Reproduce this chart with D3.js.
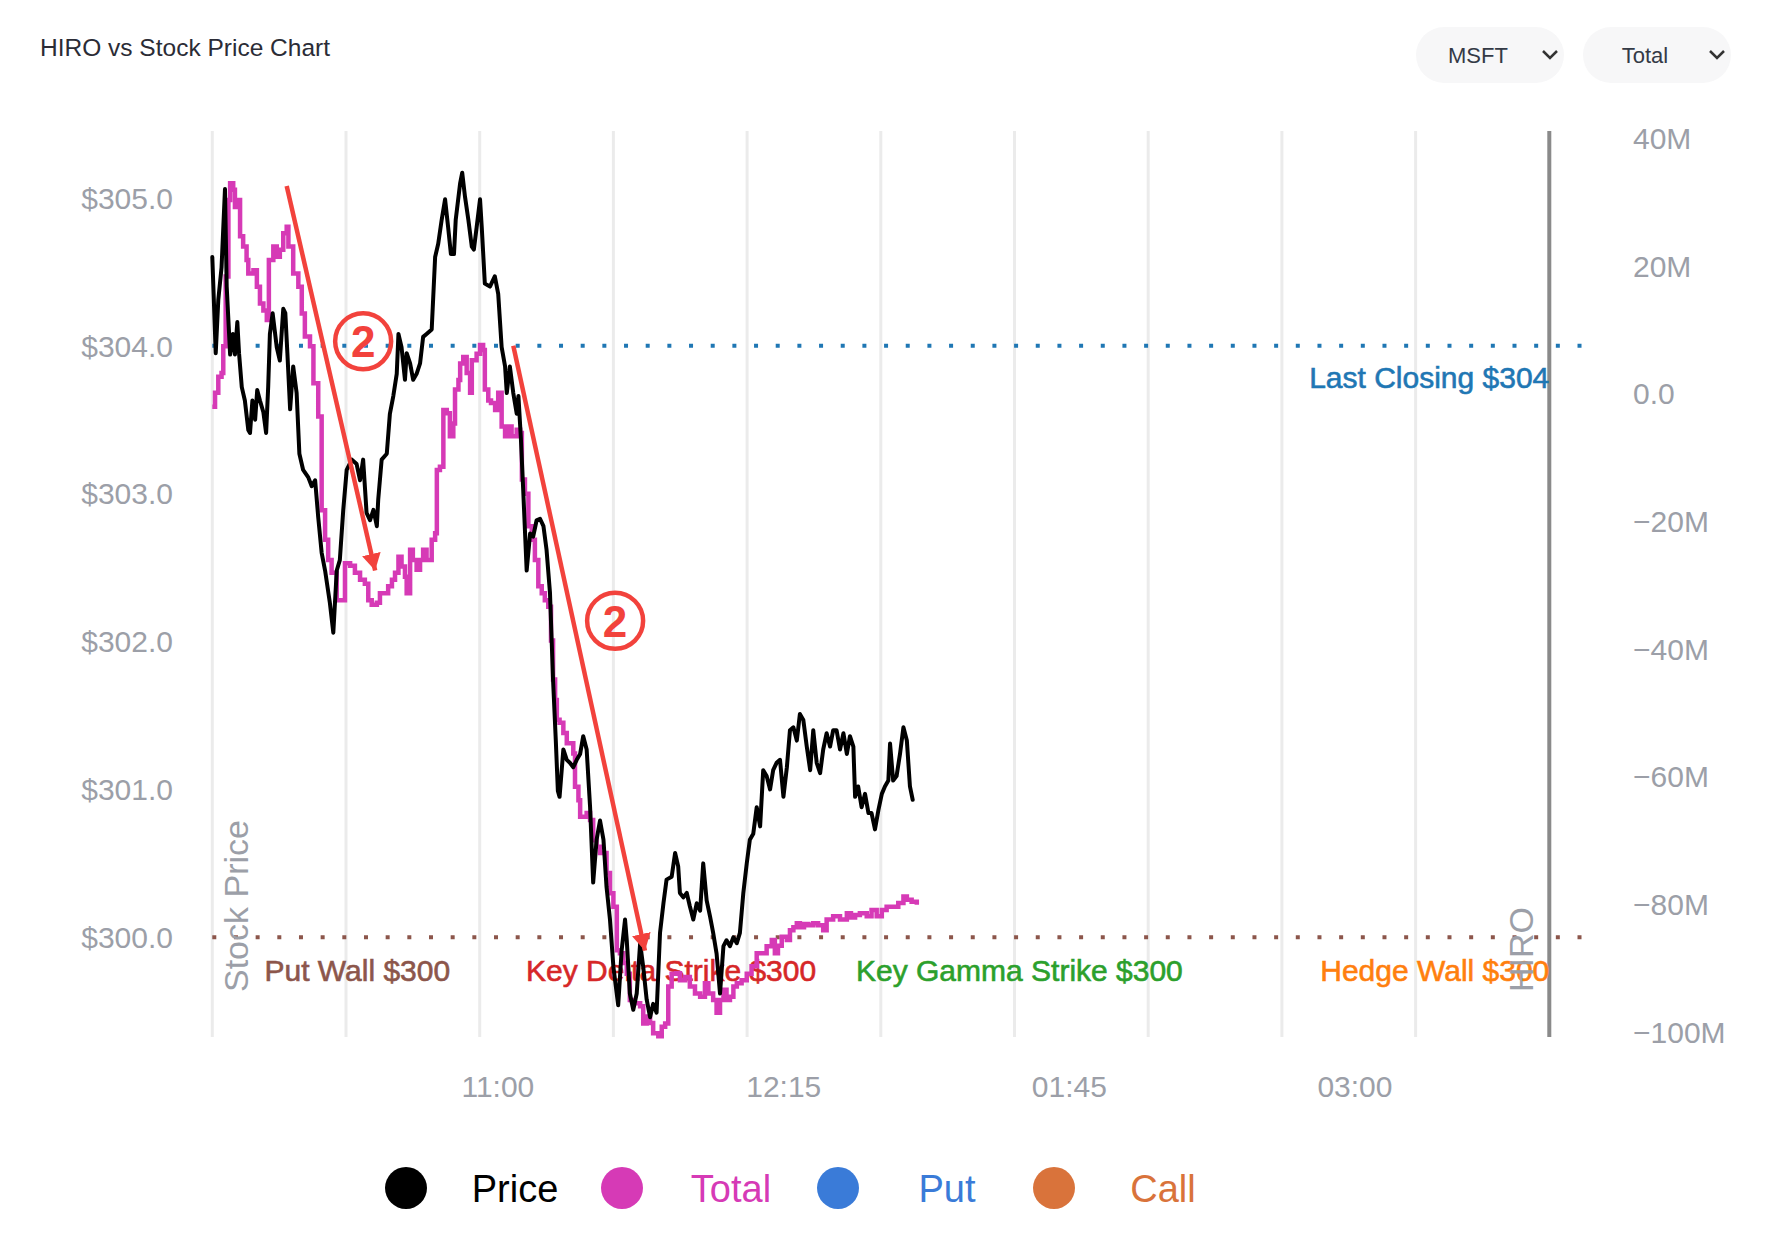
<!DOCTYPE html>
<html>
<head>
<meta charset="utf-8">
<script src="https://cdn.jsdelivr.net/npm/d3@7"></script>
<style>
  body { margin: 0; background: #fff; }
  svg text { font-family: "Liberation Sans", Arial, Helvetica, sans-serif; }
</style>
</head>
<body>
<svg id="chart" width="1765" height="1242"></svg>
<script>
// minutes since the open (chart slots) and MSFT price
const pricePoints = [
  [0,304.60],[1.0,303.95],[1.75,304.31],[2.7,304.53],[3.7,305.06],[4.2,304.40],[5.2,303.94],[6.0,304.08],
  [6.6,303.94],[7.3,304.16],[7.8,303.95],[8.6,303.72],[9.5,303.63],[10.5,303.43],[11.0,303.41],[11.7,303.63],
  [12.5,303.50],[13.1,303.70],[13.9,303.63],[14.9,303.55],[15.7,303.41],[16.3,303.72],[16.8,304.08],[17.6,304.22],
  [18.8,303.99],[19.7,303.90],[20.7,304.25],[21.3,304.22],[21.9,303.95],[22.7,303.57],[23.6,303.86],[24.6,303.68],
  [25.4,303.27],[26.5,303.16],[28.0,303.11],[29.0,303.05],[30.0,303.09],[30.9,302.84],[31.9,302.60],[32.9,302.48],
  [34.3,302.26],[35.3,302.06],[36.3,302.48],[37.2,302.55],[38.2,302.89],[39.2,303.16],[40.7,303.23],[42.1,303.20],
  [43.1,303.09],[44.0,303.23],[45.0,302.87],[46.0,302.82],[47.0,302.89],[48.0,302.78],[48.4,302.96],[49.4,303.23],
  [50.9,303.27],[51.8,303.54],[52.8,303.66],[53.8,303.81],[54.3,304.08],[55.2,303.99],[56.2,303.77],[56.7,303.95],
  [57.7,303.88],[58.6,303.77],[59.6,303.81],[60.6,303.88],[61.5,304.06],[62.5,304.08],[64.0,304.11],[65.0,304.60],
  [65.9,304.69],[66.9,304.85],[67.9,304.99],[68.8,304.80],[69.6,304.62],[70.5,304.62],[71.0,304.85],[72.3,305.10],
  [72.9,305.17],[73.7,305.01],[74.7,304.85],[75.7,304.67],[76.3,304.65],[77.1,304.80],[78.1,304.99],[78.6,304.80],
  [79.5,304.42],[81.0,304.40],[82.4,304.47],[83.4,304.35],[84.4,303.99],[85.4,303.86],[85.9,303.68],[86.8,303.86],
  [87.8,303.68],[88.8,303.54],[89.3,303.66],[90.0,303.38],[90.7,303.02],[91.7,302.48],[92.7,302.73],[93.6,302.71],
  [94.6,302.82],[95.6,302.83],[96.6,302.78],[97.5,302.62],[98.5,302.33],[99.4,301.74],[100.2,301.33],[100.8,300.99],
  [101.3,300.95],[102.4,301.27],[103.4,301.20],[104.3,301.18],[105.3,301.15],[106.3,301.20],[107.3,301.24],[108.2,301.36],
  [109.2,301.27],[110.2,300.88],[111.1,300.37],[112.1,300.66],[113.1,300.79],[114.1,300.66],[115.0,300.34],[116.0,300.12],
  [117.0,299.80],[118.4,299.54],[119.4,299.91],[120.4,300.12],[120.9,299.98],[121.8,299.62],[122.8,299.51],[123.8,299.62],
  [124.8,299.96],[125.7,299.80],[126.7,299.58],[127.7,299.46],[128.6,299.55],[129.6,299.49],[130.6,300.03],[131.6,300.23],
  [132.5,300.39],[134.0,300.41],[135.0,300.57],[135.9,300.48],[136.4,300.30],[137.4,300.27],[138.4,300.30],[139.3,300.21],
  [140.3,300.12],[141.3,300.23],[142.3,300.18],[143.2,300.50],[144.2,300.25],[145.2,300.14],[146.1,300.03],[147.1,299.89],
  [148.1,299.62],[149.1,299.94],[150.0,299.98],[151.0,299.94],[152.0,300.00],[153.0,299.96],[153.9,300.03],[154.9,300.30],
  [155.9,300.50],[156.8,300.66],[157.8,300.70],[158.8,300.88],[159.8,300.75],[160.7,301.13],[161.7,301.09],[162.7,301.00],
  [163.6,301.13],[164.6,301.18],[165.6,301.20],[166.6,300.95],[167.6,301.15],[168.5,301.40],[169.5,301.42],[170.5,301.33],
  [171.4,301.51],[172.4,301.47],[173.4,301.29],[174.4,301.13],[175.3,301.40],[176.3,301.18],[177.3,301.11],[178.2,301.27],
  [179.2,301.38],[180.2,301.29],[181.1,301.40],[182.1,301.40],[183.1,301.27],[184.1,301.38],[185.1,301.24],[186.0,301.36],
  [187.0,301.29],[187.5,300.95],[188.4,301.02],[189.4,300.88],[190.4,300.97],[191.4,300.84],[192.3,300.84],[193.3,300.73],
  [194.3,300.86],[195.3,300.97],[196.2,301.02],[197.2,301.06],[197.7,301.31],[198.6,301.06],[199.6,301.09],[200.6,301.24],
  [201.6,301.42],[202.6,301.33],[203.5,301.02],[204.3,300.93]
];

// Total HIRO, millions
const totalPoints = [
  [0,-2.1],[0.8,0.1],[1.75,2.6],[2.7,3.2],[3.2,7.4],[3.9,18.3],[4.7,30.3],[5.2,32.9],[6.1,31.9],[6.6,29.2],
  [7.6,30.3],[8.1,24.6],[9.0,23.0],[10.0,20.9],[10.5,18.8],[12.0,19.3],[13.0,16.7],[13.9,14.1],[14.9,13.0],[15.9,11.5],
  [16.5,20.9],[17.8,23.0],[18.8,21.4],[19.7,22.5],[20.7,25.1],[21.7,26.1],[22.2,23.0],[23.6,18.8],[25.1,16.7],[26.1,12.5],
  [27.0,8.9],[28.5,7.4],[29.5,1.6],[30.9,-3.6],[31.9,-18.3],[32.9,-22.9],[33.8,-26.1],[34.8,-28.1],[36.3,-32.4],[38.7,-26.6],
  [40.2,-27.0],[41.6,-28.1],[43.1,-29.2],[44.5,-29.8],[45.5,-32.4],[46.5,-33.1],[48.0,-32.8],[48.9,-31.3],[51.3,-30.2],[52.4,-29.2],
  [53.3,-28.1],[54.3,-25.6],[55.2,-27.1],[56.2,-28.7],[56.7,-31.3],[57.7,-24.5],[58.5,-26.1],[59.6,-27.6],[60.6,-26.1],[61.5,-24.5],
  [62.5,-26.1],[64.0,-22.9],[65.0,-21.9],[65.5,-12.0],[66.4,-11.5],[67.4,-2.6],[68.4,-3.1],[69.3,-6.7],[70.3,-4.7],[70.8,0.6],
  [71.8,2.1],[72.3,4.7],[73.2,5.7],[74.2,3.2],[75.2,0.1],[75.7,5.2],[77.1,6.2],[78.1,7.6],[79.0,6.8],[79.5,0.6],
  [80.5,-1.1],[81.3,-1.5],[82.5,-2.6],[83.4,0.1],[84.4,-5.2],[85.4,-6.7],[86.3,-5.2],[87.3,-6.7],[88.8,-5.7],[89.8,-6.2],
  [90.3,-13.5],[91.2,-15.7],[92.2,-20.8],[93.2,-22.9],[94.1,-26.1],[95.1,-30.2],[96.1,-31.3],[97.0,-32.4],[98.0,-33.4],[98.8,-38.7],
  [99.4,-44.8],[100.0,-48.0],[100.5,-51.1],[101.3,-51.6],[102.4,-53.2],[103.4,-54.8],[105.3,-56.4],[105.8,-61.6],[106.8,-63.7],[107.3,-66.3],
  [109.2,-65.7],[110.2,-66.8],[111.1,-70.0],[112.1,-71.0],[113.1,-72.0],[115.0,-75.1],[116.0,-78.3],[117.0,-80.4],[118.0,-87.2],[118.9,-87.7],
  [119.9,-89.2],[120.9,-90.9],[121.8,-95.0],[122.8,-95.5],[124.8,-96.0],[125.7,-98.7],[126.7,-97.6],[127.7,-98.6],[128.6,-100.2],[130.1,-100.7],
  [131.1,-99.2],[132.1,-98.7],[133.0,-92.9],[134.0,-90.9],[135.3,-90.8],[136.4,-91.9],[137.9,-91.4],[139.3,-92.9],[140.8,-94.0],[142.3,-94.5],
  [143.7,-92.4],[144.7,-94.0],[146.1,-95.0],[147.1,-97.0],[148.1,-95.0],[149.1,-93.4],[150.0,-95.0],[151.0,-94.5],[152.0,-92.9],[153.0,-92.4],
  [154.4,-91.9],[155.9,-90.9],[157.3,-89.7],[158.8,-87.7],[161.7,-86.6],[163.2,-85.6],[164.1,-87.7],[165.0,-86.5],[166.1,-85.1],[167.6,-85.6],
  [168.5,-84.1],[169.5,-83.6],[170.5,-83.0],[171.4,-83.6],[172.6,-83.1],[173.9,-83.3],[175.3,-83.0],[176.7,-83.3],[178.2,-84.1],[179.2,-82.4],
  [181.1,-81.9],[183.1,-82.4],[185.1,-81.4],[186.3,-82.1],[187.5,-81.7],[188.9,-81.4],[190.9,-81.9],[192.3,-80.9],[193.8,-81.9],[195.3,-80.9],
  [196.7,-80.4],[198.6,-80.4],[200.1,-79.8],[201.6,-78.8],[202.6,-79.3],[204.0,-79.6],[205.5,-80.1]
];

const priceTicks = [305, 304, 303, 302, 301, 300];
const hiroTicks = [40, 20, 0, -20, -40, -60, -80, -100];
const xTickSlots = [83.3, 166.7, 250, 333.3];
const xTickLabels = ["11:00", "12:15", "01:45", "03:00"];

const lastClose = 304;
const strikeLabels = ["Put Wall $300", "Key Delta Strike $300", "Key Gamma Strike $300", "Hedge Wall $300"];
const strikeColors = ["#8c564b", "#d62728", "#2ca02c", "#ff7f0e"];
const strikeLevel = 300;

const legendNames = ["Price", "Total", "Put", "Call"];
const legendColors = ["#000000", "#d63ab6", "#3a7bd8", "#d9733b"];

// hand-drawn annotations: [slot, price] pairs
const arrows = [[[21.7, 305.08], [47.5, 302.48]], [[87.8, 304.00], [126.2, 299.91]]];
const badges = [[44.0, 304.03], [117.5, 302.14]];

const svg = d3.select("#chart");
const plotL = 212.3, plotR = 1549.3, plotT = 131, plotB = 1037;

const x = d3.scaleLinear().domain([0, 390]).range([plotL, plotR]);
const yPrice = d3.scaleLinear().domain([299.326, 305.452]).range([plotB, plotT]);
const yHiro = d3.scaleLinear().domain([-100.8, 41.1]).range([plotB, plotT]);
const gray = "#9c9fa8";

// title
svg.append("text").attr("x", 40).attr("y", 56)
  .attr("font-size", 24.5).attr("fill", "#2b2c36").text("HIRO vs Stock Price Chart");

// pickers
[["MSFT", 1416], ["Total", 1583]].forEach(([label, px]) => {
  const g = svg.append("g").attr("transform", `translate(${px},27)`);
  g.append("rect").attr("width", 148).attr("height", 56).attr("rx", 28).attr("fill", "#f7f7f8");
  g.append("text").attr("x", 62).attr("y", 36).attr("text-anchor", "middle")
    .attr("font-size", 22).attr("fill", "#343a46").text(label);
  g.append("path").attr("d", "M127,24 L134,31 L141,24")
    .attr("fill", "none").attr("stroke", "#333").attr("stroke-width", 2.5);
});

// vertical grid
svg.append("g").selectAll("line").data(d3.range(0, 391, 39)).join("line")
  .attr("x1", d => x(d)).attr("x2", d => x(d)).attr("y1", plotT).attr("y2", plotB)
  .attr("stroke", "#ebebeb").attr("stroke-width", 3);
svg.append("line").attr("x1", plotR).attr("x2", plotR).attr("y1", plotT).attr("y2", plotB)
  .attr("stroke", "#8a8a8a").attr("stroke-width", 4);

// left axis
svg.append("g").selectAll("text").data(priceTicks).join("text")
  .attr("x", 173).attr("y", d => yPrice(d)).attr("dy", "0.36em").attr("text-anchor", "end")
  .attr("font-size", 30).attr("fill", gray).text(d => "$" + d.toFixed(1));

// right axis
const fmtHiro = v => v === 0 ? "0.0" : (v < 0 ? "\u2212" : "") + Math.abs(v) + "M";
svg.append("g").selectAll("text").data(hiroTicks).join("text")
  .attr("x", 1633).attr("y", d => yHiro(d)).attr("dy", "0.36em")
  .attr("font-size", 30).attr("fill", gray).text(fmtHiro);

// x axis labels
svg.append("g").selectAll("text").data(xTickSlots).join("text")
  .attr("x", d => x(d)).attr("y", 1097).attr("text-anchor", "middle")
  .attr("font-size", 30).attr("fill", gray).text((d, i) => xTickLabels[i]);

// reference lines
[[lastClose, "#1f77b4"], [strikeLevel, "#8c564b"]].forEach(([v, c]) => {
  svg.append("line").attr("x1", plotL).attr("x2", 1582).attr("y1", yPrice(v)).attr("y2", yPrice(v))
    .attr("stroke", c).attr("stroke-width", 4).attr("stroke-dasharray", "4 17.67");
});
svg.append("text").attr("x", plotR).attr("y", yPrice(lastClose) + 42.5).attr("text-anchor", "end")
  .attr("font-size", 30).attr("fill", "#1f77b4")
  .attr("stroke", "#1f77b4").attr("stroke-width", 0.6).text("Last Closing $" + lastClose);
const strikeX = [264.5, 526, 856, plotR];
strikeLabels.forEach((t, i) => {
  svg.append("text").attr("x", strikeX[i]).attr("y", yPrice(strikeLevel) + 43.5)
    .attr("text-anchor", i === 3 ? "end" : "start")
    .attr("font-size", 30).attr("fill", strikeColors[i])
    .attr("stroke", strikeColors[i]).attr("stroke-width", 0.6).text(t);
});

// axis titles
svg.append("text").attr("transform", "translate(247.5,992) rotate(-90)")
  .attr("font-size", 34).attr("fill", gray).text("Stock Price");
svg.append("text").attr("transform", "translate(1532.5,992) rotate(-90)")
  .attr("font-size", 34).attr("fill", gray).text("HIRO");

// series
const totalLine = d3.line().x(d => x(d[0])).y(d => yHiro(d[1])).curve(d3.curveStepAfter);
svg.append("path").datum(totalPoints).attr("d", totalLine)
  .attr("fill", "none").attr("stroke", legendColors[1]).attr("stroke-width", 4.5);

const priceLine = d3.line().x(d => x(d[0])).y(d => yPrice(d[1]));
svg.append("path").datum(pricePoints).attr("d", priceLine)
  .attr("fill", "none").attr("stroke", "#000").attr("stroke-width", 4)
  .attr("stroke-linejoin", "round").attr("stroke-linecap", "round");

// annotations
const red = "#f2423c";
svg.append("defs").append("marker").attr("id", "head")
  .attr("viewBox", "0 0 16 18").attr("refX", 16).attr("refY", 9)
  .attr("markerWidth", 17).attr("markerHeight", 19).attr("markerUnits", "userSpaceOnUse")
  .attr("orient", "auto")
  .append("path").attr("d", "M0,0 L16,9 L0,18 Z").attr("fill", red);
arrows.forEach(([a, b]) => {
  svg.append("line").attr("x1", x(a[0])).attr("y1", yPrice(a[1]))
    .attr("x2", x(b[0])).attr("y2", yPrice(b[1]))
    .attr("stroke", red).attr("stroke-width", 4.5).attr("marker-end", "url(#head)");
});
badges.forEach(([s, p]) => {
  svg.append("circle").attr("cx", x(s)).attr("cy", yPrice(p)).attr("r", 28)
    .attr("fill", "none").attr("stroke", red).attr("stroke-width", 4.5);
  svg.append("text").attr("x", x(s)).attr("y", yPrice(p) + 16).attr("text-anchor", "middle")
    .attr("font-size", 44).attr("font-weight", "bold").attr("fill", red).text("2");
});

// legend
const lg = svg.append("g").selectAll("g").data(legendNames).join("g")
  .attr("transform", (d, i) => `translate(${406 + i * 216},1188)`);
lg.append("circle").attr("r", 21).attr("fill", (d, i) => legendColors[i]);
lg.append("text").attr("x", 109).attr("y", 13.5).attr("text-anchor", "middle")
  .attr("font-size", 38).attr("fill", (d, i) => legendColors[i]).text(d => d);
</script>
</body>
</html>
